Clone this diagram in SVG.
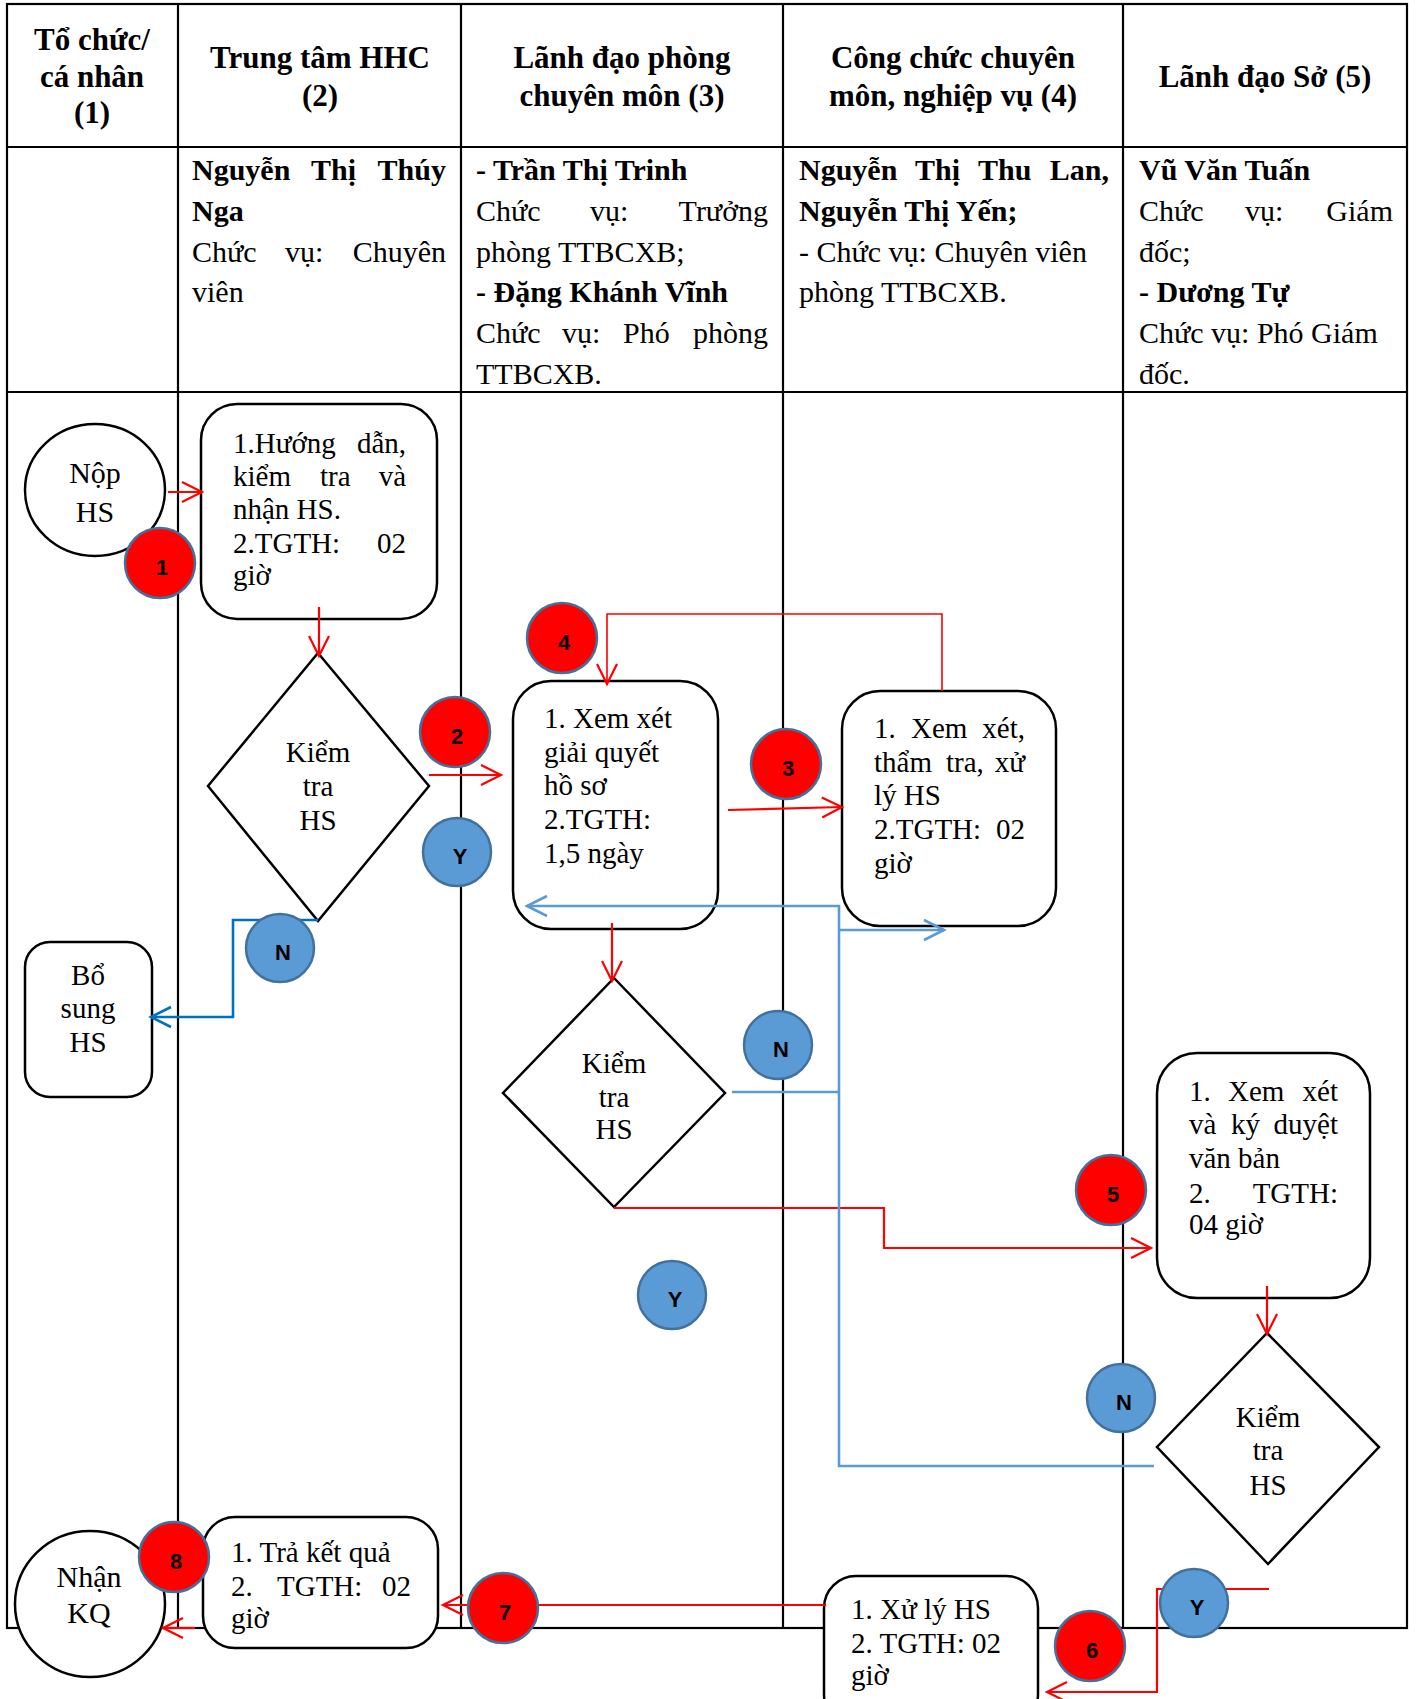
<svg xmlns="http://www.w3.org/2000/svg" width="1416" height="1699" viewBox="0 0 1416 1699">
<style>
.tbl{stroke:#000;stroke-width:2.2;fill:none}
.box{fill:#fff;stroke:#000;stroke-width:2.5}
.hd{font-family:"Liberation Serif","Times New Roman",serif;font-weight:bold;font-size:31px;text-anchor:middle;fill:#000}
.bd{font-family:"Liberation Serif","Times New Roman",serif;font-size:30px;fill:#000}
.b{font-weight:bold}
.ft{font-family:"Liberation Serif","Times New Roman",serif;font-size:29px;fill:#000}
.mid{text-anchor:middle}
.red{stroke:#FF0000;stroke-width:2.2;fill:none}
.redt{stroke:#FF0000;stroke-width:1.6;fill:none}
.blue{stroke:#5B9BD5;stroke-width:2.6;fill:none}
.dblue{stroke:#0070C0;stroke-width:2.6;fill:none}
.bR{fill:#FF0000;stroke:#41719C;stroke-width:2.5}
.bB{fill:#5B9BD5;stroke:#41719C;stroke-width:2.5}
.bt{font-family:"Liberation Sans",Arial,sans-serif;font-weight:bold;font-size:22px;text-anchor:middle;fill:#000}
</style>
<defs>
<marker id="aR" markerUnits="userSpaceOnUse" markerWidth="26" markerHeight="26" viewBox="0 0 26 26" refX="22" refY="12" orient="auto" overflow="visible"><path d="M2,2 L22,12 L2,22" fill="none" stroke="#FF0000" stroke-width="2.2"/></marker>
<marker id="aB" markerUnits="userSpaceOnUse" markerWidth="26" markerHeight="26" viewBox="0 0 26 26" refX="22" refY="12" orient="auto" overflow="visible"><path d="M2,2 L22,12 L2,22" fill="none" stroke="#5B9BD5" stroke-width="2.6"/></marker>
<marker id="aD" markerUnits="userSpaceOnUse" markerWidth="26" markerHeight="26" viewBox="0 0 26 26" refX="22" refY="12" orient="auto" overflow="visible"><path d="M2,2 L22,12 L2,22" fill="none" stroke="#0070C0" stroke-width="2.6"/></marker>
</defs>
<rect width="1416" height="1699" fill="#fff"/>

<g id="table">
<rect class="tbl" x="7" y="4" width="1400" height="1624"/>
<line class="tbl" x1="178" y1="4" x2="178" y2="1628"/>
<line class="tbl" x1="461" y1="4" x2="461" y2="1628"/>
<line class="tbl" x1="783" y1="4" x2="783" y2="1628"/>
<line class="tbl" x1="1123" y1="4" x2="1123" y2="1628"/>
<line class="tbl" x1="7" y1="147" x2="1407" y2="147"/>
<line class="tbl" x1="7" y1="392" x2="1407" y2="392"/>
</g>

<g id="headers">
<text class="hd" x="92" y="50">Tổ chức/</text>
<text class="hd" x="92" y="87">cá nhân</text>
<text class="hd" x="92" y="123">(1)</text>
<text class="hd" x="320" y="68">Trung tâm HHC</text>
<text class="hd" x="320" y="106">(2)</text>
<text class="hd" x="622" y="68">Lãnh đạo phòng</text>
<text class="hd" x="622" y="106">chuyên môn (3)</text>
<text class="hd" x="953" y="68">Công chức chuyên</text>
<text class="hd" x="953" y="106">môn, nghiệp vụ (4)</text>
<text class="hd" x="1265" y="87">Lãnh đạo Sở (5)</text>
</g>

<g id="staff">
<text class="bd b" y="180"><tspan x="192">Nguyễn</tspan><tspan x="311">Thị</tspan><tspan x="446" text-anchor="end">Thúy</tspan></text>
<text class="bd b" x="192" y="221">Nga</text>
<text class="bd" y="262"><tspan x="192">Chức</tspan><tspan x="285">vụ:</tspan><tspan x="446" text-anchor="end">Chuyên</tspan></text>
<text class="bd" x="192" y="302">viên</text>

<text class="bd b" x="476" y="180">- Trần Thị Trinh</text>
<text class="bd" y="221"><tspan x="476">Chức</tspan><tspan x="590">vụ:</tspan><tspan x="768" text-anchor="end">Trưởng</tspan></text>
<text class="bd" x="476" y="262">phòng TTBCXB;</text>
<text class="bd b" x="476" y="302">- Đặng Khánh Vĩnh</text>
<text class="bd" y="343"><tspan x="476">Chức</tspan><tspan x="562">vụ:</tspan><tspan x="623">Phó</tspan><tspan x="768" text-anchor="end">phòng</tspan></text>
<text class="bd" x="476" y="384">TTBCXB.</text>

<text class="bd b" y="180"><tspan x="799">Nguyễn</tspan><tspan x="915">Thị</tspan><tspan x="978">Thu</tspan><tspan x="1109" text-anchor="end">Lan,</tspan></text>
<text class="bd b" x="799" y="221">Nguyễn Thị Yến;</text>
<text class="bd" x="799" y="262">- Chức vụ: Chuyên viên</text>
<text class="bd" x="799" y="302">phòng TTBCXB.</text>

<text class="bd b" x="1139" y="180">Vũ Văn Tuấn</text>
<text class="bd" y="221"><tspan x="1139">Chức</tspan><tspan x="1245">vụ:</tspan><tspan x="1393" text-anchor="end">Giám</tspan></text>
<text class="bd" x="1139" y="262">đốc;</text>
<text class="bd b" x="1139" y="302">- Dương Tự</text>
<text class="bd" x="1139" y="343">Chức vụ: Phó Giám</text>
<text class="bd" x="1139" y="384">đốc.</text>
</g>

<g id="nop-hs">
<ellipse class="box" cx="95" cy="490" rx="70" ry="66"/>
<text class="bd mid" x="95" y="483">Nộp</text>
<text class="bd mid" x="95" y="522">HS</text>
</g>

<g id="box-huong-dan">
<rect class="box" x="201" y="404" width="236" height="215" rx="36"/>
<text class="ft" y="453"><tspan x="233">1.Hướng</tspan><tspan x="406" text-anchor="end">dẫn,</tspan></text>
<text class="ft" y="486"><tspan x="233">kiểm</tspan><tspan x="320">tra</tspan><tspan x="406" text-anchor="end">và</tspan></text>
<text class="ft" x="233" y="519">nhận HS.</text>
<text class="ft" y="553"><tspan x="233">2.TGTH:</tspan><tspan x="406" text-anchor="end">02</tspan></text>
<text class="ft" x="233" y="585">giờ</text>
</g>

<g id="kiem-tra-1">
<polygon class="box" points="318,653 429,786 318,921 208,786"/>
<text class="ft mid" x="318" y="762">Kiểm</text>
<text class="ft mid" x="318" y="796">tra</text>
<text class="ft mid" x="318" y="830">HS</text>
</g>

<g id="bo-sung">
<rect class="box" x="25" y="942" width="127" height="155" rx="25"/>
<text class="ft mid" x="88" y="985">Bổ</text>
<text class="ft mid" x="88" y="1018">sung</text>
<text class="ft mid" x="88" y="1052">HS</text>
</g>

<g id="box-giai-quyet">
<rect class="box" x="513" y="681" width="205" height="248" rx="38"/>
<text class="ft" x="544" y="728">1. Xem xét</text>
<text class="ft" x="544" y="762">giải quyết</text>
<text class="ft" x="544" y="795">hồ sơ</text>
<text class="ft" x="544" y="829">2.TGTH:</text>
<text class="ft" x="544" y="863">1,5 ngày</text>
</g>

<g id="box-tham-tra">
<rect class="box" x="842" y="691" width="214" height="235" rx="38"/>
<text class="ft" y="738"><tspan x="874">1.</tspan><tspan x="911">Xem</tspan><tspan x="1025" text-anchor="end">xét,</tspan></text>
<text class="ft" y="772"><tspan x="874">thẩm</tspan><tspan x="946">tra,</tspan><tspan x="1025" text-anchor="end">xử</tspan></text>
<text class="ft" x="874" y="805">lý HS</text>
<text class="ft" y="839"><tspan x="874">2.TGTH:</tspan><tspan x="1025" text-anchor="end">02</tspan></text>
<text class="ft" x="874" y="873">giờ</text>
</g>

<g id="kiem-tra-2">
<polygon class="box" points="614,978 725,1093 614,1207 503,1093"/>
<text class="ft mid" x="614" y="1073">Kiểm</text>
<text class="ft mid" x="614" y="1107">tra</text>
<text class="ft mid" x="614" y="1139">HS</text>
</g>

<g id="box-ky-duyet">
<rect class="box" x="1157" y="1053" width="213" height="245" rx="40"/>
<text class="ft" y="1101"><tspan x="1189">1.</tspan><tspan x="1228">Xem</tspan><tspan x="1338" text-anchor="end">xét</tspan></text>
<text class="ft" y="1134"><tspan x="1189">và</tspan><tspan x="1231">ký</tspan><tspan x="1338" text-anchor="end">duyệt</tspan></text>
<text class="ft" x="1189" y="1168">văn bản</text>
<text class="ft" y="1203"><tspan x="1189">2.</tspan><tspan x="1338" text-anchor="end">TGTH:</tspan></text>
<text class="ft" x="1189" y="1234">04 giờ</text>
</g>

<g id="kiem-tra-3">
<polygon class="box" points="1267,1333 1379,1447 1268,1564 1157,1447"/>
<text class="ft mid" x="1268" y="1427">Kiểm</text>
<text class="ft mid" x="1268" y="1460">tra</text>
<text class="ft mid" x="1268" y="1495">HS</text>
</g>

<g id="box-xu-ly">
<rect class="box" x="824" y="1576" width="214" height="150" rx="32"/>
<text class="ft" x="851" y="1619">1. Xử lý HS</text>
<text class="ft" x="851" y="1653">2. TGTH: 02</text>
<text class="ft" x="851" y="1685">giờ</text>
</g>

<g id="box-tra-kq">
<rect class="box" x="203" y="1517" width="235" height="131" rx="32"/>
<text class="ft" x="231" y="1562">1. Trả kết quả</text>
<text class="ft" y="1596"><tspan x="231">2.</tspan><tspan x="277">TGTH:</tspan><tspan x="411" text-anchor="end">02</tspan></text>
<text class="ft" x="231" y="1628">giờ</text>
</g>

<g id="nhan-kq">
<ellipse class="box" cx="90" cy="1604" rx="75" ry="73"/>
<text class="bd mid" x="89" y="1587">Nhận</text>
<text class="bd mid" x="89" y="1623">KQ</text>
</g>

<g id="connectors">
<line class="red" x1="168" y1="492" x2="202" y2="492" marker-end="url(#aR)"/>
<line class="red" x1="319" y1="607" x2="319" y2="656" marker-end="url(#aR)"/>
<line class="red" x1="429" y1="775" x2="501" y2="775" marker-end="url(#aR)"/>
<line class="red" x1="728" y1="810" x2="842" y2="807" marker-end="url(#aR)"/>
<polyline class="redt" points="942,691 942,614 607,614 607,684" marker-end="url(#aR)"/>
<line class="red" x1="612" y1="923" x2="612" y2="981" marker-end="url(#aR)"/>
<polyline class="red" points="614,1208 884,1208 884,1248 1151,1248" marker-end="url(#aR)"/>
<line class="red" x1="1267" y1="1286" x2="1267" y2="1334" marker-end="url(#aR)"/>
<polyline class="red" points="1269,1589 1157,1589 1157,1692 1047,1692" marker-end="url(#aR)"/>
<line class="red" x1="826" y1="1605" x2="443" y2="1605" marker-end="url(#aR)"/>
<line class="red" x1="195" y1="1628" x2="163" y2="1628" marker-end="url(#aR)"/>
<polyline class="dblue" points="318,920 233,920 233,1017 151,1017" marker-end="url(#aD)"/>
<polyline class="blue" points="1154,1466 839,1466 839,906 527,906" marker-end="url(#aB)"/>
<line class="blue" x1="732" y1="1092" x2="839" y2="1092"/>
<line class="blue" x1="839" y1="930" x2="944" y2="930" marker-end="url(#aB)"/>
</g>

<g id="badge-1"><circle class="bR" cx="160" cy="563" r="35"/><text class="bt" x="162" y="575">1</text></g>
<g id="badge-2"><circle class="bR" cx="455" cy="732" r="35"/><text class="bt" x="457" y="744">2</text></g>
<g id="badge-3"><circle class="bR" cx="786" cy="764" r="35"/><text class="bt" x="788" y="776">3</text></g>
<g id="badge-4"><circle class="bR" cx="562" cy="638" r="35"/><text class="bt" x="564" y="650">4</text></g>
<g id="badge-5"><circle class="bR" cx="1111" cy="1190" r="35"/><text class="bt" x="1113" y="1202">5</text></g>
<g id="badge-6"><circle class="bR" cx="1090" cy="1646" r="35"/><text class="bt" x="1092" y="1658">6</text></g>
<g id="badge-7"><circle class="bR" cx="503" cy="1608" r="35"/><text class="bt" x="505" y="1620">7</text></g>
<g id="badge-8"><circle class="bR" cx="174" cy="1557" r="35"/><text class="bt" x="176" y="1569">8</text></g>
<g id="badge-y1"><circle class="bB" cx="457" cy="852" r="34"/><text class="bt" x="460" y="864">Y</text></g>
<g id="badge-y2"><circle class="bB" cx="672" cy="1295" r="34"/><text class="bt" x="675" y="1307">Y</text></g>
<g id="badge-y3"><circle class="bB" cx="1194" cy="1603" r="34"/><text class="bt" x="1197" y="1615">Y</text></g>
<g id="badge-n1"><circle class="bB" cx="280" cy="948" r="34"/><text class="bt" x="283" y="960">N</text></g>
<g id="badge-n2"><circle class="bB" cx="778" cy="1045" r="34"/><text class="bt" x="781" y="1057">N</text></g>
<g id="badge-n3"><circle class="bB" cx="1121" cy="1398" r="34"/><text class="bt" x="1124" y="1410">N</text></g>
</svg>
